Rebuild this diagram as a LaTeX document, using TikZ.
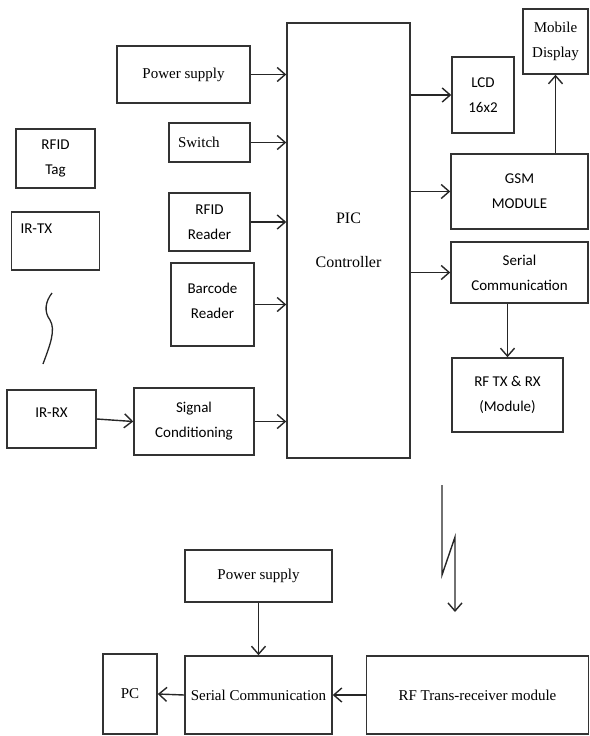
\documentclass[tikz,border=0pt]{standalone}
\usepackage{fontspec}
\setmainfont{Liberation Serif}
\newfontfamily\calfont{Carlito}
\usetikzlibrary{positioning, arrows.meta}

\tikzset{
  blk/.style={draw=black!80, line width=1.5pt, inner sep=0pt, align=center},
  cal/.style={font=\calfont\fontsize{15}{25}\selectfont},
  tms/.style={font=\fontsize{15}{25}\selectfont},
  arr/.style={draw=black!85, line width=1.4pt, -{Straight Barb[length=8pt,width=14pt]}}
}

\begin{document}
\begin{tikzpicture}[x=1pt, y=-1pt]
  \useasboundingbox (0,0) rectangle (589,736);
  % Main controller
  \node[blk, tms, font=\fontsize{16}{44}\selectfont, minimum width=123, minimum height=435]
    (pic) at (348.5,240.5) {PIC\\Controller};
  % Inputs
  \node[blk, tms, minimum width=133, minimum height=57] (psu) at (183.5,74.5) {Power supply};
  \node[blk, tms, minimum width=81, minimum height=39, text width=63, inner xsep=9, align=left]
    (sw) at (209.5,142.5) {Switch};
  \node[blk, cal, minimum width=81, minimum height=58] (rfr) at (209.5,222) {RFID\\Reader};
  \node[blk, cal, minimum width=83, minimum height=83] (bcr) at (212.5,304.5) {Barcode\\Reader\\[-18pt]~};
  \node[blk, cal, minimum width=120, minimum height=67] (sig) at (194,421.5) {Signal\\Conditioning};
  % Tag side
  \node[blk, cal, minimum width=79, minimum height=59] (tag) at (55.5,158.5) {RFID\\Tag};
  \node[blk, cal, minimum width=79, minimum height=58, text width=70, inner xsep=9, align=left]
    (irtx) at (55.5,241) {IR-TX\\~};
  \node[blk, cal, minimum width=89, minimum height=58] (irrx) at (51.5,419) {IR-RX\\[-12pt]~};
  % Outputs
  \node[blk, cal, minimum width=62, minimum height=76] (lcd) at (483,95) {LCD\\16x2};
  \node[blk, tms, minimum width=65, minimum height=65] (mob) at (555.5,41.5) {Mobile\\Display};
  \node[blk, cal, minimum width=137, minimum height=75] (gsm) at (519.5,191.5) {GSM\\MODULE};
  \node[blk, cal, minimum width=137, minimum height=61] (ser) at (519.5,272.5) {Serial\\Communication};
  \node[blk, cal, minimum width=111, minimum height=74] (rftx) at (507.5,395) {RF TX \& RX\\(Module)};
  % PC side
  \node[blk, tms, minimum width=147, minimum height=52] (psu2) at (258.5,576) {Power supply};
  \node[blk, tms, minimum width=147, minimum height=78] (ser2) at (258.5,695) {Serial Communication};
  \node[blk, tms, minimum width=54, minimum height=80] (pc) at (130,694) {PC};
  \node[blk, tms, minimum width=222, minimum height=78] (rftr) at (477.5,695) {RF Trans-receiver module};

  % Arrows into the controller
  \foreach \n in {psu, sw, rfr, bcr, sig}
    \draw[arr] (\n.east) -- (\n.east -| pic.west);
  \draw[arr] (irrx.east) -- (sig.west);
  % Arrows out of the controller
  \foreach \n in {lcd, gsm, ser}
    \draw[arr] (pic.east |- \n.west) -- (\n.west);
  \draw[arr] (mob.south |- gsm.north) -- (mob.south);
  \draw[arr] (rftx.north |- ser.south) -- (rftx.north);
  % PC side arrows
  \draw[arr] (psu2.south) -- (ser2.north);
  \draw[arr] (rftr.west) -- (ser2.east);
  \draw[arr] (ser2.west) -- (pc.east);

  % IR link
  \coordinate (sqa) at (52,293);
  \coordinate (sqb) at (43,364);
  \draw[black!85, line width=1.3pt] (sqa) .. controls (45,302) and (44,312) .. (50,320)
    .. controls (56,330) and (50,345) .. (sqb);
  % RF link
  \coordinate (zza) at (442,485);
  \coordinate (zzb) at (442,575);
  \coordinate (zzc) at (455,537);
  \coordinate (zzd) at (455,612);
  \draw[arr] (zza) -- (zzb) -- (zzc) -- (zzd);
\end{tikzpicture}
\end{document}
